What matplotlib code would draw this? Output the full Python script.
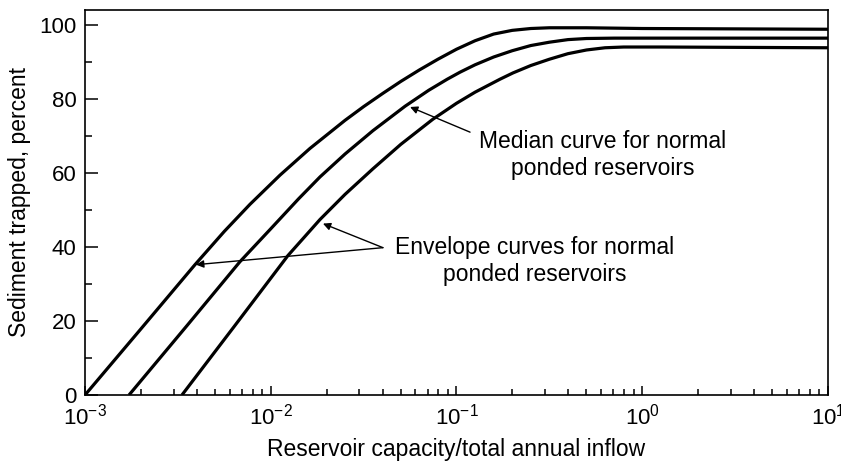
import numpy as np
import matplotlib.pyplot as plt

plt.rcParams['font.family'] = ['Liberation Sans', 'DejaVu Sans']
plt.rcParams['mathtext.fontset'] = 'custom'
plt.rcParams['mathtext.rm'] = 'Liberation Sans'

# curves: log10(capacity/inflow) and percent trapped
upper_exp = [-3.0, -2.7, -2.408, -2.25, -2.112, -1.95, -1.789, -1.6, -1.5, -1.396, -1.3, -1.2,
             -1.1, -1.0, -0.9, -0.8, -0.7, -0.6, -0.5, -0.3, 0.0, 1.0]
upper_pct = [0, 17.8, 35.2, 44.2, 51.5, 59.4, 66.6, 74.2, 77.9, 81.5, 84.7, 87.8,
             90.7, 93.4, 95.7, 97.5, 98.5, 99.0, 99.2, 99.2, 99.0, 98.8]

median_exp = [-2.763, -2.45, -2.166, -2.0, -1.85, -1.735, -1.6, -1.45, -1.277, -1.15, -1.05,
              -0.981, -0.9, -0.8, -0.7, -0.6, -0.5, -0.4, -0.3, -0.15, 0.0, 1.0]
median_pct = [0, 18.8, 36.0, 44.9, 53.0, 58.9, 65.1, 71.4, 78.0, 82.3, 85.3,
              87.2, 89.2, 91.3, 93.0, 94.4, 95.3, 96.0, 96.3, 96.4, 96.4, 96.4]

lower_exp = [-2.478, -2.2, -1.907, -1.82, -1.735, -1.6, -1.45, -1.3, -1.127, -1.0, -0.9,
             -0.766, -0.696, -0.6, -0.5, -0.4, -0.3, -0.2, -0.1, 0.1, 1.0]
lower_pct = [0, 18.3, 37.7, 42.6, 47.4, 54.2, 61.1, 67.7, 74.5, 78.8, 81.8,
             85.3, 87.0, 89.0, 90.7, 92.2, 93.2, 93.8, 94.0, 94.0, 93.8]

curves = [(upper_exp, upper_pct), (median_exp, median_pct), (lower_exp, lower_pct)]

fig = plt.figure(figsize=(8.41, 4.63), dpi=100)
ax = fig.add_axes([0.1011, 0.1469, 0.8834, 0.8315])

for ex, pct in curves:
    ax.plot(10.0 ** np.array(ex), pct, color='black', lw=2.3,
            solid_capstyle='butt', solid_joinstyle='round')

ax.set_xscale('log')
ax.set_xlim(1e-3, 1e1)
ax.set_ylim(0, 104)
ax.set_yticks([0, 20, 40, 60, 80, 100])
ax.set_yticks([10, 30, 50, 70, 90], minor=True)

ax.tick_params(axis='both', which='both', direction='in', top=False, right=False,
               labelsize=16, color='black', width=1.1)
ax.tick_params(axis='y', which='major', length=9.5, pad=6)
ax.tick_params(axis='y', which='minor', length=5)
ax.tick_params(axis='x', which='major', length=6.5, pad=6)
ax.tick_params(axis='x', which='minor', length=4.3)
for sp in ax.spines.values():
    sp.set_linewidth(1.2)

ax.set_xlabel('Reservoir capacity/total annual inflow', fontsize=16.5, labelpad=6)
ax.set_ylabel('Sediment trapped, percent', fontsize=16.5, labelpad=6)

arrow = dict(arrowstyle='-|>', color='black', lw=1.0, mutation_scale=11,
             shrinkA=0, shrinkB=0)

# median curve label
ax.annotate('', xy=(10 ** -1.25, 77.8), xytext=(10 ** -0.927, 71), arrowprops=arrow)
ax.text(10 ** -0.211, 64.9, 'Median curve for normal\nponded reservoirs',
        fontsize=16.5, ha='center', va='center', linespacing=1.2)

# envelope curves label
ax.annotate('', xy=(10 ** -2.402, 35.2), xytext=(10 ** -1.396, 39.8), arrowprops=arrow)
ax.annotate('', xy=(10 ** -1.719, 46.3), xytext=(10 ** -1.396, 39.8), arrowprops=arrow)
ax.text(10 ** -0.577, 36.2, 'Envelope curves for normal\nponded reservoirs',
        fontsize=16.5, ha='center', va='center', linespacing=1.2)

fig.savefig('out.png', dpi=100)
